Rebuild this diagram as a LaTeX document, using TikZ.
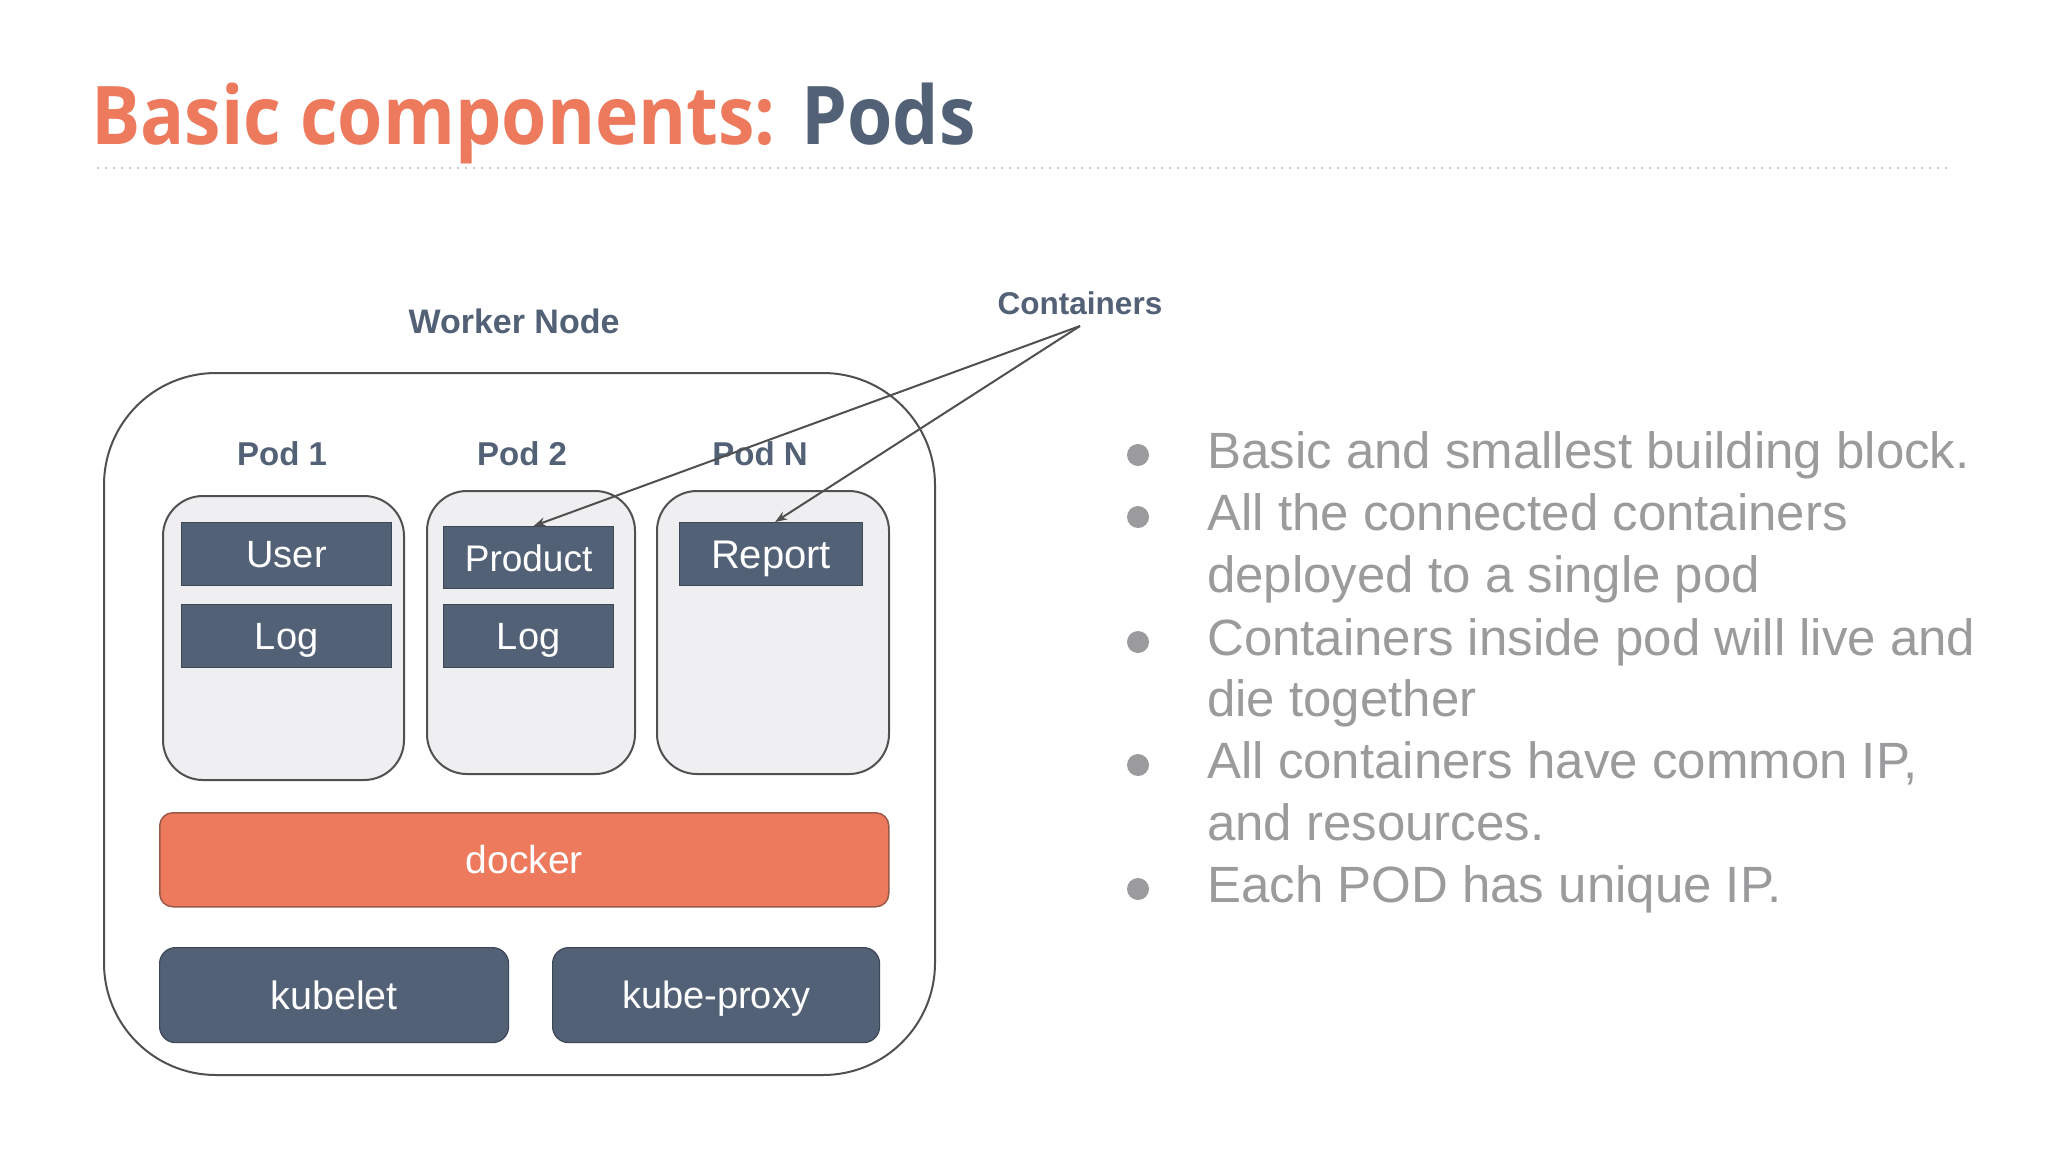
\documentclass[tikz,border=0pt]{standalone}
\usepackage{fontspec}
\setmainfont{Liberation Sans}
\newfontfamily\titlefont{Open Sans}[FakeStretch=0.905]
\usetikzlibrary{arrows.meta}
\definecolor{coral}{HTML}{EE7A5E}
\definecolor{coraldark}{HTML}{9A5A4A}
\definecolor{slate}{HTML}{536176}
\definecolor{slatedark}{HTML}{3E4756}
\definecolor{linegray}{HTML}{505050}
\definecolor{podfill}{HTML}{EFEFF1}
\definecolor{bulletgray}{HTML}{9B9B9D}
\definecolor{dotgray}{HTML}{C8C8C8}
\tikzset{
  box/.style={anchor=north west, inner sep=0pt, align=center},
  outerbox/.style={box, draw=linegray, line width=2pt, rounded corners=112pt},
  podbox/.style={box, draw=linegray, fill=podfill, line width=2pt, rounded corners=40pt},
  cont/.style={box, fill=slate, draw=slatedark, line width=1.2pt, text=white,
    font=\fontsize{38}{40}\selectfont, text height=27pt, text depth=0pt},
  dockerbox/.style={box, fill=coral, draw=coraldark, line width=1.5pt, text=white, rounded corners=13pt,
    font=\fontsize{39}{42}\selectfont, text height=28pt, text depth=0pt},
  svcbox/.style={box, fill=slate, draw=slatedark, line width=1.2pt, text=white, rounded corners=16pt,
    font=\fontsize{38}{40}\selectfont, text height=27pt, text depth=0pt},
  lbl/.style={anchor=base, inner sep=0pt, text=slate, font=\fontsize{33}{36}\selectfont\bfseries},
  bline/.style={anchor=base west, inner sep=0pt, text=bulletgray, font=\fontsize{51}{62}\selectfont},
  bdot/.style={circle, fill=bulletgray, inner sep=0pt, minimum size=22pt},
  pointer/.style={draw=linegray, line width=2pt, -{Stealth[length=12pt,width=9pt]}},
}
\begin{document}
\begin{tikzpicture}[x=1pt,y=-1pt]
\useasboundingbox (0,0) rectangle (2048,1152);
\fill[white] (0,0) rectangle (2048,1152);
% title
\node[anchor=base west, inner sep=0pt, font=\titlefont\fontsize{81}{90}\selectfont\bfseries] (title) at (91,144)
  {\textcolor{coral}{Basic components:} \textcolor{slate}{Pods}};
\draw[dotgray, line width=2pt, dash pattern=on 2pt off 6pt] (97,168) -- (1950,168);
% worker node
\node[lbl, font=\fontsize{34}{36}\selectfont\bfseries] (wlabel) at (514,333) {Worker Node};
\node[outerbox, minimum width=831pt, minimum height=702pt] (worker) at (103,372) {};
% pods
\node[podbox, minimum width=241pt, minimum height=284pt] (pod1) at (162,495) {};
\node[podbox, minimum width=208pt, minimum height=283pt] (pod2) at (426,490) {};
\node[podbox, minimum width=232pt, minimum height=283pt] (podn) at (656,490) {};
\node[lbl] (pod1l) at (282,465) {Pod 1};
\node[lbl] (pod2l) at (522,465) {Pod 2};
\node[lbl] (podnl) at (760,465) {Pod N};
% containers
\node[cont, minimum width=210pt, minimum height=63pt] (user) at (181,522) {User};
\node[cont, minimum width=210pt, minimum height=63pt] (log1) at (181,604) {Log};
\node[cont, minimum width=170pt, minimum height=62pt, font=\fontsize{37}{40}\selectfont] (product) at (443,526) {Product};
\node[cont, minimum width=170pt, minimum height=63pt] (log2) at (443,604) {Log};
\node[cont, minimum width=183pt, minimum height=63pt, font=\fontsize{40}{42}\selectfont, text height=28.5pt] (report) at (679,522) {Report};
% docker and services
\node[dockerbox, minimum width=729pt, minimum height=94pt] (docker) at (159,812) {docker};
\node[svcbox, minimum width=349pt, minimum height=95pt, font=\fontsize{39.5}{42}\selectfont, text height=28pt] (kubelet) at (159,947) {kubelet};
\node[svcbox, minimum width=327pt, minimum height=95pt] (proxy) at (552,947) {kube-proxy};
% containers label and pointers
\node[lbl, font=\fontsize{31.5}{36}\selectfont\bfseries] (clabel) at (1080,314) {Containers};
\coordinate (apex) at (1080,326);
\draw[pointer] (apex) -- ([xshift=5pt]product.north);
\draw[pointer] (apex) -- ([xshift=4pt]report.north);
% bullets
\node[bdot] (d1) at (1138,455) {};
\node[bdot] (d2) at (1138,517) {};
\node[bdot] (d3) at (1138,642) {};
\node[bdot] (d4) at (1138,765) {};
\node[bdot] (d5) at (1138,889) {};
\node[bline] (b1) at (1207,468) {Basic and smallest building block.};
\node[bline] (b2) at (1207,530) {All the connected containers};
\node[bline] (b3) at (1207,592) {deployed to a single pod};
\node[bline] (b4) at (1207,655) {Containers inside pod will live and};
\node[bline] (b5) at (1207,716) {die together};
\node[bline] (b6) at (1207,778) {All containers have common IP,};
\node[bline] (b7) at (1207,840) {and resources.};
\node[bline] (b8) at (1207,902) {Each POD has unique IP.};
\end{tikzpicture}
\end{document}
